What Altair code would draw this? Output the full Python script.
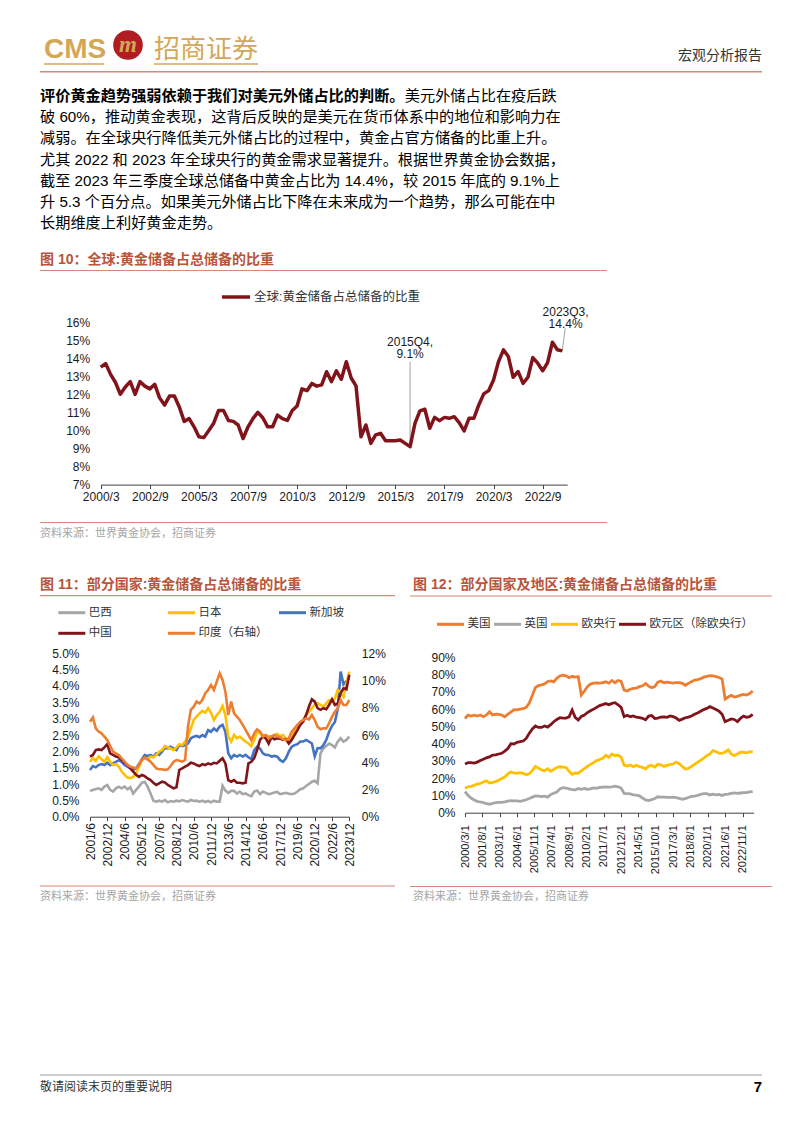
import altair as alt
import pandas as pd

CJK = "Noto Sans CJK SC"
MIX = "Liberation Sans, Noto Sans CJK SC"
LAT = "Liberation Sans"

GOLD = "#D4A757"
TITLE = "#B8553A"
RULE_RED = "#D98876"
DARKRED = "#80141A"
GRAY = "#A6A6A6"
YELLOW = "#FFC000"
BLUE = "#4472C4"
ORANGE = "#ED7D31"
AX = "#404040"
TXT = "#1a1a1a"

W, H = 786, 1117      # whole page minus the 8 px margin
O = 8                 # page -> chart offset

# ---------------- data ----------------
fig10_name = "全球:黄金储备占总储备的比重"
fig10_values = [13.5, 13.7, 13.1, 12.65, 12.0, 12.4, 12.7, 12.0, 12.7, 12.45,
                12.3, 12.55, 11.8, 11.4, 11.9, 11.9, 11.3, 10.5, 10.65, 10.2,
                9.65, 9.6, 10.0, 10.4, 11.1, 11.1, 10.55, 10.5, 10.3, 9.55,
                10.2, 10.65, 11.0, 10.7, 10.2, 10.2, 10.85, 10.65, 10.55, 11.1,
                11.35, 12.3, 12.2, 12.6, 12.45,
                12.52, 13.25, 12.7, 13.3, 12.83, 13.8, 12.9, 12.46, 9.65, 10.3,
                9.28, 9.75, 9.84, 9.43, 9.43, 9.43, 9.47, 9.28, 9.1, 10.39,
                11.08, 11.17, 10.12, 10.72, 10.54, 10.72, 10.67, 10.76, 10.43, 9.97,
                10.67, 10.67, 11.41, 12.02, 12.2, 12.79, 13.8, 14.46, 14.09, 12.94,
                13.26, 12.6, 12.94, 14.03, 13.72, 13.3, 13.75, 14.88, 14.46, 14.4]
fig10_ticks = ["2000/3", "2002/9", "2005/3", "2007/9", "2010/3",
               "2012/9", "2015/3", "2017/9", "2020/3", "2022/9"]
fig10_ann_dates = ["2015-12-01", "2015-12-01", "2023-11-01", "2023-11-01"]
fig10_ann_values = [14.9, 14.22, 16.57, 15.89]
fig10_ann_labels = ["2015Q4,", "9.1%", "2023Q3,", "14.4%"]
fig10_lead_from = [("2015-12-01", 9.1), ("2023-09-01", 14.4)]
fig10_lead_to = [("2015-12-01", 13.8), ("2023-10-25", 15.65)]

fig11_names = ["巴西", "日本", "新加坡", "中国", "印度（右轴）"]
fig11_brazil = [0.79, 0.82, 0.85, 0.87, 0.82, 0.92, 0.97, 0.82, 0.77, 0.87,
                0.92, 0.87, 0.92, 0.84, 0.9, 0.71, 0.82, 0.92, 1.04, 1.07,
                0.92, 0.71, 0.49, 0.46, 0.49, 0.46, 0.51, 0.44, 0.48, 0.46,
                0.49, 0.47, 0.51, 0.48, 0.46, 0.51, 0.48, 0.49, 0.46, 0.49,
                0.45, 0.48, 0.44, 0.49, 0.46, 0.46, 0.95, 0.8, 0.73, 0.79,
                0.79, 0.71, 0.77, 0.69, 0.71, 0.66, 0.63, 0.77, 0.8, 0.69,
                0.77, 0.73, 0.69, 0.71, 0.74, 0.76, 0.69, 0.71, 0.73, 0.7,
                0.69, 0.71, 0.77, 0.84, 0.87, 0.94, 1.0, 1.07, 1.1, 1.02,
                1.94, 2.09, 2.16, 2.24, 2.19, 2.12, 2.3, 2.4, 2.3, 2.35,
                2.45]
fig11_japan = [1.68, 1.79, 1.71, 1.84, 1.76, 1.68, 1.82, 1.68, 1.58, 1.61,
               1.53, 1.38, 1.28, 1.2, 1.18, 1.22, 1.33, 1.53, 1.73, 1.79,
               1.76, 1.84, 1.82, 1.89, 1.99, 2.04, 2.16, 2.12, 2.09, 2.04,
               2.12, 2.22, 2.19, 2.3, 2.45, 2.7, 2.96, 3.06, 3.16, 3.24,
               3.18, 3.32, 3.18, 2.96, 3.11, 3.21, 3.39, 3.11, 2.45, 2.3,
               2.5, 2.4, 2.45, 2.37, 2.3, 2.24, 2.16, 2.35, 2.6, 2.55,
               2.5, 2.45, 2.47, 2.45, 2.5, 2.53, 2.47, 2.5, 2.4, 2.35,
               2.45, 2.6, 2.7, 2.86, 2.96, 3.11, 3.21, 3.32, 3.42, 3.47,
               3.42, 3.37, 3.47, 3.57, 3.52, 3.62, 3.88, 3.78, 3.67, 4.08,
               4.44]
fig11_singapore = [1.43, 1.55, 1.51, 1.58, 1.61, 1.58, 1.65, 1.58, 1.63, 1.68,
                   1.73, 1.68, 1.58, 1.53, 1.48, 1.43, 1.48, 1.61, 1.76, 1.89,
                   1.86, 1.89, 1.84, 1.94, 1.89, 1.99, 2.12, 2.09, 2.14, 2.09,
                   2.04, 2.19, 2.16, 2.19, 2.24, 2.4, 2.45, 2.47, 2.43, 2.5,
                   2.45, 2.65, 2.6, 2.7, 2.63, 2.76, 2.81, 2.6, 1.94, 1.79,
                   1.89, 1.84, 1.89, 1.84, 1.89, 1.82, 1.76, 2.04, 2.14, 2.09,
                   1.94, 1.89, 1.89, 1.84, 1.86, 1.84, 1.73, 1.68, 1.79, 1.99,
                   2.14, 2.19, 2.22, 2.3, 2.3, 2.35, 2.3, 2.24, 1.85, 2.1,
                   2.09, 2.19, 2.35, 2.6, 2.78, 2.9, 3.3, 4.44, 4.05, 4.15,
                   4.25]
fig11_china = [1.84, 1.89, 2.04, 2.06, 2.04, 2.12, 2.22, 1.94, 1.89, 1.84,
               1.82, 1.73, 1.65, 1.58, 1.48, 1.38, 1.28, 1.22, 1.28, 1.24,
               1.17, 1.12, 1.04, 0.97, 1.02, 1.07, 1.05, 0.97, 0.92, 0.87,
               0.9, 1.43, 1.48, 1.53, 1.58, 1.65, 1.63, 1.58, 1.55, 1.61,
               1.58, 1.63, 1.6, 1.65, 1.63, 1.71, 1.79, 1.63, 1.12, 1.07,
               1.12, 1.04, 1.04, 1.02, 1.04, 1.63, 1.68, 1.79, 2.04, 2.35,
               2.45, 2.4, 2.24, 2.43, 2.37, 2.4, 2.39, 2.35, 2.37, 2.24,
               2.35, 2.5, 2.65, 2.81, 2.91, 3.11, 3.37, 3.59, 3.52, 3.32,
               3.27, 3.32, 3.29, 3.42, 3.59, 3.42, 3.47, 3.78, 3.93, 3.9,
               4.34]
fig11_india = [6.98, 7.3, 6.49, 6.25, 6.12, 5.88, 5.63, 5.19, 4.78, 4.65,
               4.53, 4.29, 4.04, 3.8, 3.67, 3.62, 3.55, 3.8, 4.16, 4.36,
               4.21, 4.04, 3.8, 3.55, 3.48, 3.48, 3.43, 3.48, 3.72, 4.04,
               4.16, 4.11, 4.04, 4.16, 6.61, 7.84, 8.08, 8.45, 8.33, 8.57,
               9.06, 9.31, 9.67, 9.31, 9.92, 10.53, 10.04, 9.18, 7.47, 8.45,
               7.59, 7.35, 7.1, 6.74, 6.37, 6.0, 5.63, 6.12, 6.42, 6.25,
               5.88, 6.0, 5.76, 5.88, 6.0, 5.88, 5.83, 5.68, 5.63, 5.76,
               6.25, 6.49, 6.74, 6.98, 7.1, 7.22, 7.15, 7.47, 7.1, 6.61,
               6.42, 6.49, 6.49, 6.86, 7.35, 7.71, 7.96, 8.57, 8.2, 8.2,
               8.57]
fig11_ticks = ["2001/6", "2002/12", "2004/6", "2005/12", "2007/6", "2008/12",
               "2010/6", "2011/12", "2013/6", "2014/12", "2016/6", "2017/12",
               "2019/6", "2020/12", "2022/6", "2023/12"]

fig12_names = ["美国", "英国", "欧央行", "欧元区（除欧央行）"]
fig12_us = [54.6, 56.5, 56.0, 56.5, 56.0, 56.6, 55.6, 56.6, 58.5, 56.6,
            57.1, 57.0, 56.6, 55.6, 57.1, 58.3, 59.6, 59.5, 60.0, 60.2,
            61.0, 63.5, 68.0, 72.5, 73.6, 74.0, 74.6, 76.0, 76.3, 75.8,
            77.8, 79.2, 79.7, 79.3, 78.2, 79.0, 78.5, 78.8, 68.1, 70.5,
            73.0, 74.5, 75.0, 75.2, 75.0, 75.3, 75.8, 75.0, 76.6, 75.3,
            76.6, 76.0, 71.0, 70.5, 71.5, 72.0, 72.2, 73.0, 73.5, 74.8,
            73.3, 72.4, 73.0, 75.6, 76.2, 75.3, 75.6, 75.3, 75.0, 75.3,
            75.3, 74.9, 73.8, 74.9, 75.9, 76.8, 77.1, 77.6, 78.5, 79.0,
            79.4, 79.2, 78.8, 78.3, 77.5, 65.8, 67.0, 68.0, 67.0, 67.3,
            68.1, 68.5, 68.1, 69.0, 70.5]
fig12_uk = [12.2, 10.0, 8.5, 7.3, 6.6, 6.2, 5.8, 5.2, 4.9, 5.4,
            5.8, 6.0, 6.0, 6.3, 6.7, 7.0, 6.8, 6.9, 6.6, 7.0,
            7.5, 8.2, 9.0, 9.7, 9.6, 9.3, 9.6, 9.0, 10.5, 11.3,
            12.0, 13.8, 14.5, 14.3, 13.8, 13.3, 13.2, 14.0, 13.5, 14.0,
            13.6, 13.8, 14.4, 14.1, 14.6, 14.8, 15.0, 14.8, 15.0, 15.4,
            15.0, 14.3, 11.2, 11.1, 10.9, 10.3, 10.2, 9.8, 8.5, 7.4,
            7.0, 7.6, 8.2, 9.2, 9.0, 9.0, 8.9, 8.9, 9.0, 8.7,
            8.3, 7.8, 8.2, 8.8, 9.4, 9.6, 10.0, 10.6, 11.0, 11.0,
            10.3, 10.7, 10.3, 10.6, 10.0, 10.6, 10.8, 11.2, 11.5, 11.2,
            11.4, 11.6, 11.6, 12.0, 12.2]
fig12_ecb = [14.1, 15.0, 15.3, 15.9, 16.5, 16.9, 17.8, 18.5, 17.2, 17.5,
             18.0, 18.8, 19.8, 20.6, 22.5, 23.6, 23.0, 22.8, 23.2, 22.8,
             22.0, 22.5, 24.5, 26.8, 25.8, 24.8, 24.3, 25.5, 24.0, 25.0,
             26.2, 26.6, 26.4, 26.2, 24.0, 22.2, 23.0, 22.8, 24.2, 25.5,
             26.8, 28.0, 29.0, 30.2, 30.8, 31.5, 33.2, 32.0, 34.0, 33.0,
             33.3, 32.3, 27.5, 27.0, 27.6, 26.7, 27.5, 26.7, 26.3, 25.3,
             27.0, 27.5, 26.4, 28.0, 27.7, 26.8, 27.4, 27.8, 28.2, 29.3,
             28.4, 26.8, 25.3, 25.6, 26.8, 28.0, 29.3, 30.3, 31.6, 33.0,
             34.0, 36.0, 35.3, 34.5, 34.4, 35.2, 36.4, 34.0, 33.0, 34.0,
             35.0, 35.0, 34.7, 35.2, 35.3]
fig12_euro = [28.2, 29.0, 29.0, 28.7, 29.3, 30.2, 31.0, 31.8, 32.3, 33.4,
              33.5, 34.0, 34.4, 35.7, 37.2, 40.0, 39.8, 40.8, 41.1, 41.5,
              43.0, 46.0, 48.5, 50.2, 49.4, 49.4, 50.2, 49.6, 51.0, 52.7,
              54.0, 55.0, 54.8, 54.8, 55.5, 59.5, 55.2, 53.7, 55.8, 56.5,
              58.0, 59.0, 60.0, 61.0, 62.0, 62.6, 63.2, 62.5, 63.3, 63.7,
              62.5, 61.0, 55.6, 56.4, 55.6, 56.0, 55.3, 55.0, 54.7, 53.8,
              56.0, 56.3, 54.5, 54.8, 55.4, 55.5, 55.2, 56.0, 55.6, 54.8,
              53.5, 54.2, 55.0, 55.4, 56.0, 57.0, 57.8, 58.7, 59.7, 60.4,
              61.4, 60.6, 59.7, 58.8, 57.0, 52.7, 53.5, 54.3, 54.0, 52.7,
              54.6, 55.9, 55.2, 55.6, 57.0]
fig12_ticks = ["2000/3/1", "2001/8/1", "2003/1/1", "2004/6/1", "2005/11/1",
               "2007/4/1", "2008/9/1", "2010/2/1", "2011/7/1", "2012/12/1",
               "2014/5/1", "2015/10/1", "2017/3/1", "2018/8/1", "2020/1/1",
               "2021/6/1", "2022/11/1"]

para_bold = "评价黄金趋势强弱依赖于我们对美元外储占比的判断。"
para_lines = [
    "美元外储占比在疫后跌",
    "破 60%，推动黄金表现，这背后反映的是美元在货币体系中的地位和影响力在",
    "减弱。在全球央行降低美元外储占比的过程中，黄金占官方储备的比重上升。",
    "尤其 2022 和 2023 年全球央行的黄金需求显著提升。根据世界黄金协会数据，",
    "截至 2023 年三季度全球总储备中黄金占比为 14.4%，较 2015 年底的 9.1%上",
    "升 5.3 个百分点。如果美元外储占比下降在未来成为一个趋势，那么可能在中",
    "长期维度上利好黄金走势。",
]
source_text = "资料来源：世界黄金协会，招商证券"

# one colour scale shared by the whole page
ALL_NAMES = [fig10_name] + fig11_names + fig12_names
ALL_COLORS = [DARKRED, GRAY, YELLOW, BLUE, DARKRED, ORANGE, ORANGE, GRAY, YELLOW, DARKRED]
COLOR = alt.Color("series:N", scale=alt.Scale(domain=ALL_NAMES, range=ALL_COLORS), legend=None)


def tick_dt(lbl):
    p = [int(v) for v in lbl.split("/")]
    return alt.DateTime(year=p[0], month=p[1], date=(p[2] if len(p) > 2 else 1), utc=True)


def qdates(start, n):
    return list(pd.date_range(start, periods=n, freq="3MS").strftime("%Y-%m-%d"))


def df_series(name, vals, dates):
    return pd.DataFrame({"date": dates, "value": vals, "series": name})


dummy = pd.DataFrame({"d": [0]})


def T(text, x, y, size=12, color=TXT, weight="normal", align="left",
      font=MIX, baseline="middle", style="normal"):
    """decorative text placed in page pixel coordinates"""
    return alt.Chart(dummy).mark_text(
        text=text, fontSize=size, color=color, fontWeight=weight, align=align,
        baseline=baseline, font=font, fontStyle=style
    ).encode(x=alt.value(x - O), y=alt.value(y - O))


def R(x1, x2, y, color, width=1.0):
    return alt.Chart(dummy).mark_rule(color=color, strokeWidth=width).encode(
        x=alt.value(x1 - O), x2=alt.value(x2 - O), y=alt.value(y - O))


def xaxis(ticks, fmt, bottom_page, angle, size, pad):
    return alt.Axis(values=[tick_dt(t) for t in ticks], format=fmt, orient="bottom",
                    offset=(bottom_page - O) - H,
                    labelAngle=angle, labelFlush=False, labelOverlap=False, grid=False,
                    domainColor=AX, tickColor=AX, tickSize=4, labelPadding=pad,
                    labelFont=LAT, labelFontSize=size, labelColor=TXT)


def yaxis(values, expr, orient, edge_page, pad):
    off = -(edge_page - O) if orient == "left" else (edge_page - O) - W
    return alt.Axis(values=values, labelExpr=expr, orient=orient, offset=off,
                    domain=False, ticks=False, grid=False, labelPadding=pad,
                    labelFont=LAT, labelFontSize=12, labelColor=TXT)


# ---------------- figure 10 (plot: x 100.7..567.2, y 322..484.6 on the page) ----------------
df10 = df_series(fig10_name, fig10_values, qdates("2000-03-01", len(fig10_values)))
x10 = alt.X("date:T", title=None,
            scale=alt.Scale(type="utc", domain=[tick_dt("2000/3"), tick_dt("2023/12")], nice=False,
                            range=[100.7 - O, 567.2 - O]),
            axis=xaxis(fig10_ticks, "%Y/%-m", 484.6, 0, 12, 3))
y10 = alt.Y("value:Q", title=None,
            scale=alt.Scale(domain=[7, 16], nice=False, zero=False, range=[484.6 - O, 322 - O]),
            axis=yaxis(list(range(7, 17)), "datum.value + '%'", "left", 100.7, 11))
line10 = alt.Chart(df10).mark_line(strokeWidth=3.5, strokeJoin="round").encode(x=x10, y=y10, color=COLOR)
ann10 = pd.DataFrame({"date": fig10_ann_dates, "value": fig10_ann_values, "label": fig10_ann_labels})
text10 = alt.Chart(ann10).mark_text(fontSize=12, font=LAT, color=TXT, align="center",
                                    baseline="middle").encode(x="date:T", y="value:Q", text="label:N")
lead10 = pd.DataFrame({"date": [a for a, _ in fig10_lead_from], "value": [b for _, b in fig10_lead_from],
                       "date2": [a for a, _ in fig10_lead_to], "value2": [b for _, b in fig10_lead_to]})
rule10 = alt.Chart(lead10).mark_rule(color="#A0A0A0", strokeWidth=1).encode(
    x="date:T", x2="date2:T", y="value:Q", y2="value2:Q")
fig10 = alt.layer(rule10, line10, text10)

# ---------------- figure 11 (plot: x 90..349.3, y 653.3..816.7) ----------------
dates11 = qdates("2001-06-01", len(fig11_china))
series11 = {"巴西": fig11_brazil, "日本": fig11_japan, "新加坡": fig11_singapore,
            "中国": fig11_china, "印度（右轴）": fig11_india}
x11 = alt.X("date:T", title=None,
            scale=alt.Scale(type="utc", domain=[tick_dt("2001/6"), tick_dt("2023/12")], nice=False,
                            range=[90 - O, 349.3 - O]),
            axis=xaxis(fig11_ticks, "%Y/%-m", 816.7, 270, 12, 2))
y11L = alt.Y("value:Q", title=None,
             scale=alt.Scale(domain=[0, 5], nice=False, range=[816.7 - O, 653.3 - O]),
             axis=yaxis([i * 0.5 for i in range(11)], "format(datum.value, '.1f') + '%'", "left", 90, 11))
y11R = alt.Y("value:Q", title=None,
             scale=alt.Scale(domain=[0, 12], nice=False, range=[816.7 - O, 653.3 - O]),
             axis=yaxis(list(range(0, 13, 2)), "datum.value + '%'", "right", 349.3, 12))
left11 = alt.layer(*[
    alt.Chart(df_series(n, series11[n], dates11)).mark_line(strokeWidth=2.6).encode(x=x11, y=y11L, color=COLOR)
    for n in ["巴西", "新加坡", "日本", "中国"]
])
right11 = alt.Chart(df_series("印度（右轴）", fig11_india, dates11)).mark_line(strokeWidth=2.6).encode(
    x=x11, y=y11R, color=COLOR)
fig11 = alt.layer(left11, right11).resolve_scale(y="independent")

# ---------------- figure 12 (plot: x 465..753.7, y 657.3..812.7) ----------------
dates12 = qdates("2000-03-01", len(fig12_us))
series12 = {"美国": fig12_us, "英国": fig12_uk, "欧央行": fig12_ecb, "欧元区（除欧央行）": fig12_euro}
x12 = alt.X("date:T", title=None,
            scale=alt.Scale(type="utc", domain=[tick_dt("2000/3/1"), tick_dt("2023/10/1")], nice=False,
                            range=[465 - O, 753.7 - O]),
            axis=xaxis(fig12_ticks, "%Y/%-m/%-d", 812.7, 270, 11, 8))
y12 = alt.Y("value:Q", title=None,
            scale=alt.Scale(domain=[0, 90], nice=False, range=[812.7 - O, 657.3 - O]),
            axis=yaxis(list(range(0, 91, 10)), "datum.value + '%'", "left", 465, 10))
fig12 = alt.layer(*[
    alt.Chart(df_series(n, series12[n], dates12)).mark_line(strokeWidth=2.8).encode(x=x12, y=y12, color=COLOR)
    for n in fig12_names
])

# ---------------- page decoration ----------------
PS = 15.2   # paragraph font size
deco = [
    T("CMS", 44, 58, size=28, color=GOLD, weight="bold", font=LAT, baseline="alphabetic"),
    alt.Chart(dummy).mark_circle(size=880, color="#B01E23", opacity=1).encode(
        x=alt.value(128 - O), y=alt.value(45 - O)),
    T("m", 128, 45, size=23, color=GOLD, weight="bold", align="center",
      font="Liberation Serif", style="italic"),
    T("招商证券", 154, 58, size=26, color=GOLD, font=CJK, baseline="alphabetic"),
    R(44, 104, 64, GOLD, 1.5),
    R(154, 258, 64, GOLD, 1.5),
    T("宏观分析报告", 762, 56, size=14, color="#333333", align="right", font=CJK),
    R(40, 762, 71.7, RULE_RED, 1.5),
]
py = [96, 117.2, 138.4, 159.6, 180.8, 202, 223.2]
deco.append(T(para_bold, 40, py[0], size=PS, weight="bold", color="#000000"))
deco.append(T(para_lines[0], 40 + PS * len(para_bold), py[0], size=PS, color="#000000"))
for i in range(1, 7):
    deco.append(T(para_lines[i], 40, py[i], size=PS, color="#000000"))
deco += [
    T("图 10：全球:黄金储备占总储备的比重", 40, 260, size=14, color=TITLE, weight="bold"),
    R(40, 607, 270.5, RULE_RED, 1.2),
    R(222, 250, 297, DARKRED, 3.5),
    T(fig10_name, 254, 297, size=12.5, color="#333333"),
    R(40, 607, 522.5, RULE_RED, 1.2),
    T(source_text, 40, 533.5, size=11, color="#A6A6A6", font=CJK),
    T("图 11：部分国家:黄金储备占总储备的比重", 40, 585, size=14, color=TITLE, weight="bold"),
    R(40, 395, 595.7, RULE_RED, 1.2),
    T("图 12：部分国家及地区:黄金储备占总储备的比重", 413, 585, size=14, color=TITLE, weight="bold"),
    R(410, 772, 596, RULE_RED, 1.2),
]
leg11 = [("巴西", GRAY, 58.3, 612.7), ("日本", YELLOW, 168, 612.7), ("新加坡", BLUE, 279, 612.7),
         ("中国", DARKRED, 58.3, 633.3), ("印度（右轴）", ORANGE, 168, 633.3)]
for name, col, x, y in leg11:
    deco.append(R(x, x + 27, y, col, 3))
    deco.append(T(name, x + 30.5, y, size=11.5, color="#333333", font=CJK))
leg12 = [("美国", ORANGE, 437), ("英国", GRAY, 494), ("欧央行", YELLOW, 551), ("欧元区（除欧央行）", DARKRED, 619)]
for name, col, x in leg12:
    deco.append(R(x, x + 27, 624.3, col, 3))
    deco.append(T(name, x + 30.5, 624.3, size=11.5, color="#333333", font=CJK))
deco += [
    R(40, 395, 886, RULE_RED, 1.2),
    T(source_text, 40, 896.7, size=11, color="#A6A6A6", font=CJK),
    R(410, 772, 886.5, RULE_RED, 1.2),
    T(source_text, 413, 896.7, size=11, color="#A6A6A6", font=CJK),
    R(40, 762, 1075, "#9A9A9A", 1.2),
    T("敬请阅读末页的重要说明", 40, 1087, size=12, color="#333333", font=CJK),
    T("7", 762, 1087, size=15, color="#000000", weight="bold", align="right", font=LAT),
]

chart = alt.layer(*deco, fig10, fig11, fig12).resolve_scale(
    x="independent", y="independent"
).properties(width=W, height=H, padding=0, background="white").configure_view(stroke="transparent")

chart.save("out.html", embed_options={"renderer": "svg", "actions": False})
